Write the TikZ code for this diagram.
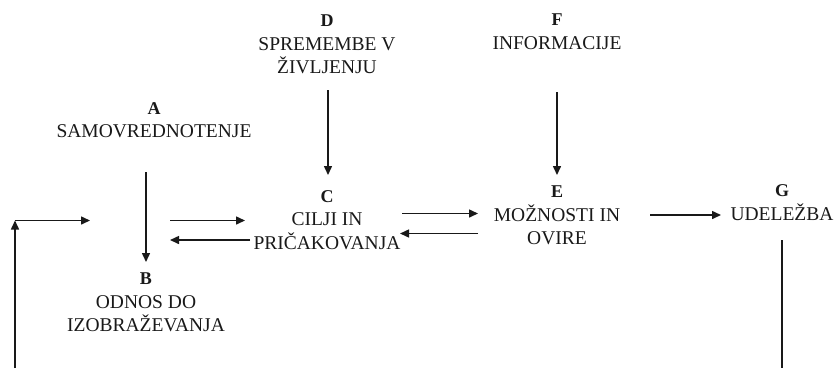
\documentclass[tikz,border=0pt]{standalone}
\usepackage{fontspec}
\setmainfont{Liberation Serif}
\usetikzlibrary{arrows.meta}
\newcommand\lblhead[1]{{\fontsize{18}{23.5}\selectfont\bfseries #1}}
\begin{document}
\begin{tikzpicture}[x=1pt,y=-1pt,
  lbl/.style={align=center, inner sep=0pt, anchor=north, text=black!90,
    font=\fontsize{19.5}{23.5}\selectfont},
  conn/.style={line width=1.5pt, black!90, -{Triangle[length=9pt,width=8pt]}},
  plain/.style={line width=1.5pt, black!90}]
\useasboundingbox (0,0) rectangle (836,368);
% text blocks
\node[lbl] (D) at (327,15) {\lblhead{D}\\SPREMEMBE V\\ŽIVLJENJU};
\node[lbl] (F) at (557,14) {\lblhead{F}\\INFORMACIJE};
\node[lbl] (A) at (154,102) {\lblhead{A}\\SAMOVREDNOTENJE};
\node[lbl] (C) at (327,190) {\lblhead{C}\\CILJI IN\\PRIČAKOVANJA};
\node[lbl] (E) at (557,186) {\lblhead{E}\\MOŽNOSTI IN\\OVIRE};
\node[lbl] (G) at (782,184.5) {\lblhead{G}\\UDELEŽBA};
\node[lbl] (B) at (146,273) {\lblhead{B}\\ODNOS DO\\IZOBRAŽEVANJA};
% connector end points
\coordinate (loopS) at (15,368);
\coordinate (loopC) at (15,220.5);
\coordinate (loopE) at (90,220.5);
\coordinate (abS) at (146,172);
\coordinate (abE) at (146,262);
\coordinate (bcS) at (170,220.5);
\coordinate (bcE) at (245,220.5);
\coordinate (cbS) at (250,240);
\coordinate (cbE) at (170,240);
\coordinate (dcS) at (328,90);
\coordinate (dcE) at (328,175);
\coordinate (ceS) at (402,213.5);
\coordinate (ceE) at (478,213.5);
\coordinate (ecS) at (478,233.5);
\coordinate (ecE) at (400,233.5);
\coordinate (feS) at (557,92);
\coordinate (feE) at (557,175);
\coordinate (egS) at (650,215);
\coordinate (egE) at (721,215);
\coordinate (gS) at (782,240);
\coordinate (gE) at (782,368);
% connectors
\draw[conn] (loopS) -- (loopC);
\draw[conn] (loopC) -- (loopE);
\draw[conn] (abS) -- (abE);
\draw[conn] (bcS) -- (bcE);
\draw[conn] (cbS) -- (cbE);
\draw[conn] (dcS) -- (dcE);
\draw[conn] (ceS) -- (ceE);
\draw[conn] (ecS) -- (ecE);
\draw[conn] (feS) -- (feE);
\draw[conn] (egS) -- (egE);
\draw[plain] (gS) -- (gE);
\end{tikzpicture}
\end{document}
